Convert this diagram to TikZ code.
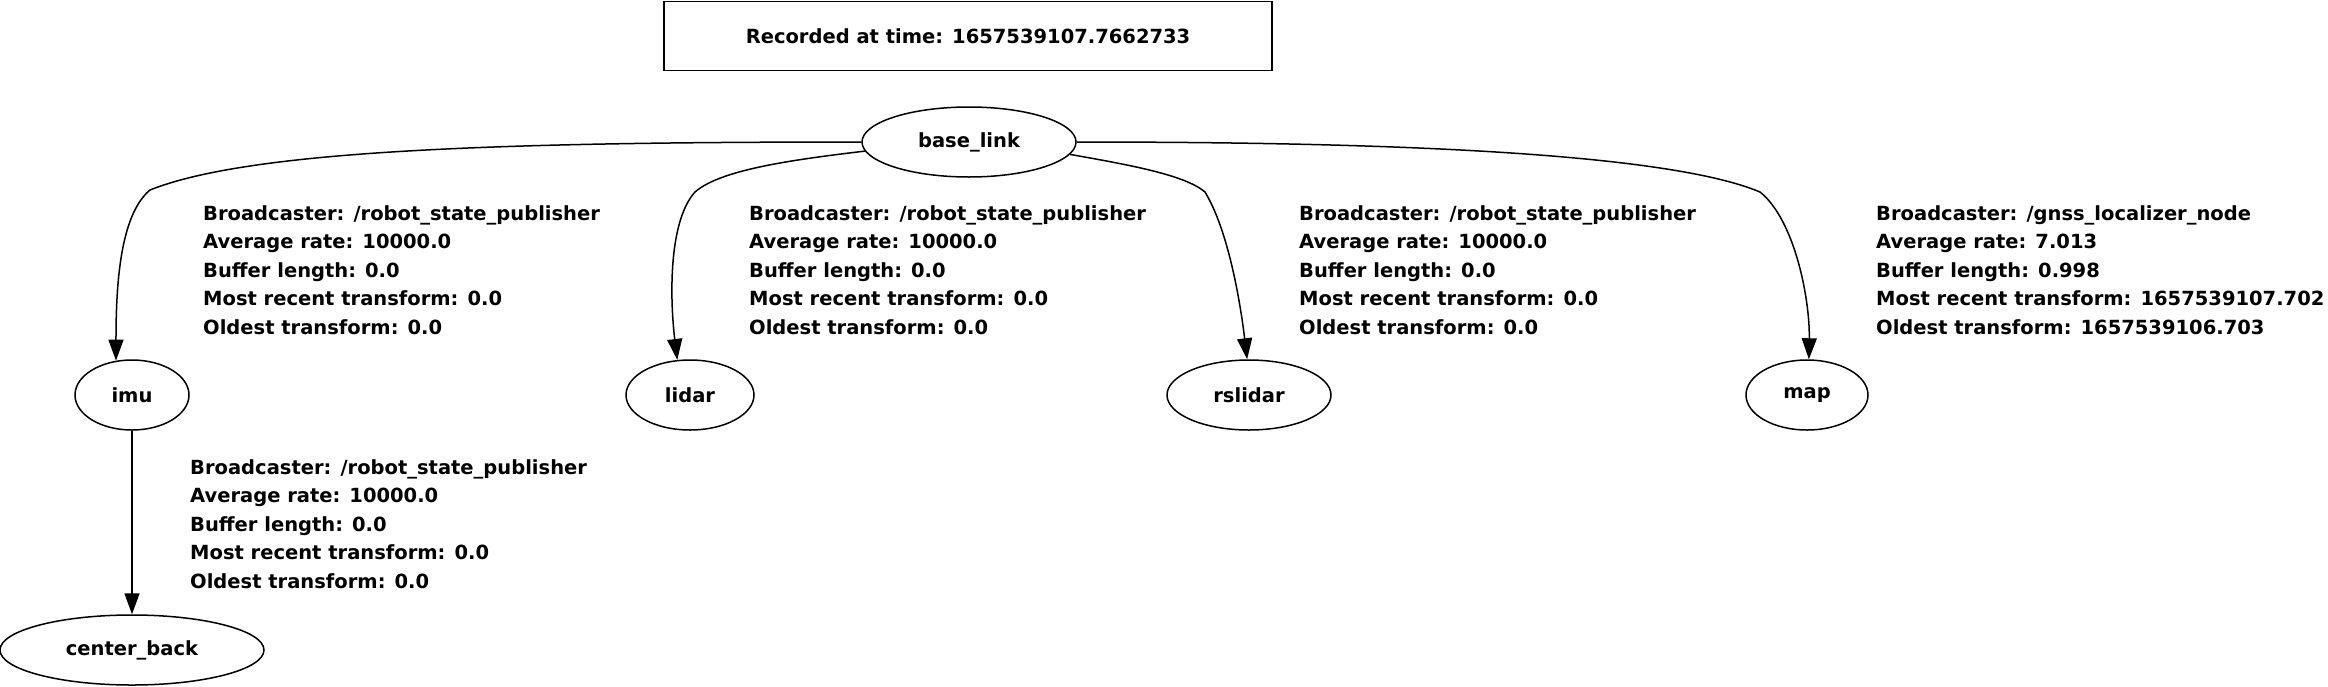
\documentclass[tikz,border=0pt]{standalone}
\usepackage{fontspec}
\setmainfont{DejaVu Sans}
\usetikzlibrary{shapes.geometric,arrows.meta}

\begin{document}
\begin{tikzpicture}[x=1pt,y=-1pt,
	every node/.style={font=\fontsize{19.5}{28.5}\selectfont\bfseries},
	stampbox/.style={draw,line width=1.5pt,rectangle,minimum width=608pt,minimum height=69pt,inner sep=0pt},
	frame/.style={draw,line width=1.5pt,ellipse,minimum height=70pt,inner sep=0pt},
	tfedge/.style={line width=1.5pt,-{Triangle[length=21pt,width=15pt]}},
	tfinfo/.style={anchor=base west,align=left,inner sep=0pt}]
	\useasboundingbox (0,0) rectangle (2328,686);
	
	\node[stampbox] (stamp) at (968,36) {Recorded at time: 1657539107.7662733};
	
	\node[frame,minimum width=214pt] (base) at (969,142) {base\_link};
	\node[frame,minimum width=114pt] (imu) at (132,395) {imu};
	\node[frame,minimum width=128pt] (lidar) at (690,395) {lidar};
	\node[frame,minimum width=164pt] (rslidar) at (1249,395) {rslidar};
	\node[frame,minimum width=122pt] (map) at (1807,395) {map};
	\node[frame,minimum width=264pt] (cback) at (132,650) {center\_back};
	
	\draw[tfedge] (base.180) .. controls (500,142) and (250,150) .. (150,190)
		.. controls (120,215) and (116,285) .. (imu.115);
	\draw[tfedge] (base.185) .. controls (790,160) and (720,170) .. (695,192)
		.. controls (668,222) and (670,300) .. (lidar.110);
	\draw[tfedge] (base.-7) .. controls (1130,165) and (1185,175) .. (1205,192)
		.. controls (1228,230) and (1240,300) .. (rslidar.93);
	\draw[tfedge] (base.0) .. controls (1350,142) and (1660,150) .. (1760,192)
		.. controls (1795,220) and (1810,300) .. (map.87);
	\draw[tfedge] (imu) -- (cback);
	
	% anchored at the baseline of the last line
	\node[tfinfo] (info imu) at (203,334) {Broadcaster: /robot\_state\_publisher\\Average rate: 10000.0\\Buffer length: 0.0\\Most recent transform: 0.0\\Oldest transform: 0.0};
	\node[tfinfo] (info lidar) at (749,334) {Broadcaster: /robot\_state\_publisher\\Average rate: 10000.0\\Buffer length: 0.0\\Most recent transform: 0.0\\Oldest transform: 0.0};
	\node[tfinfo] (info rslidar) at (1299,334) {Broadcaster: /robot\_state\_publisher\\Average rate: 10000.0\\Buffer length: 0.0\\Most recent transform: 0.0\\Oldest transform: 0.0};
	\node[tfinfo] (info map) at (1876,334) {Broadcaster: /gnss\_localizer\_node\\Average rate: 7.013\\Buffer length: 0.998\\Most recent transform: 1657539107.702\\Oldest transform: 1657539106.703};
	\node[tfinfo] (info cback) at (190,588) {Broadcaster: /robot\_state\_publisher\\Average rate: 10000.0\\Buffer length: 0.0\\Most recent transform: 0.0\\Oldest transform: 0.0};
\end{tikzpicture}
\end{document}
